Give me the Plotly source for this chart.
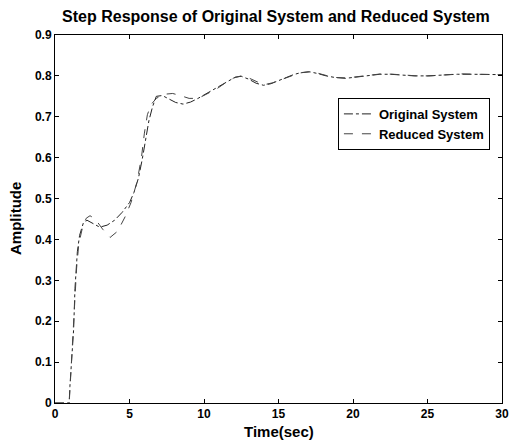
import plotly.graph_objects as go

# Original system step response
t_orig = [0, 0.95, 1.0, 1.12, 1.25, 1.34, 1.5, 1.65, 1.9, 2.15, 2.5, 3.0, 3.5, 4.0, 4.5, 5.0,
          5.3, 5.6, 5.85, 6.05, 6.3, 6.55, 6.8, 7.2, 7.6, 8.1, 8.6, 9.1, 9.6, 10.1, 10.6,
          11.1, 11.6, 12.1, 12.5, 13.0, 13.5, 14.0, 14.5, 15.0, 15.5, 16.0, 16.5, 17.1,
          17.6, 18.2, 18.8, 19.5, 20.2, 21.0, 21.8, 22.5, 23.3, 24.1, 25.0, 26.0, 27.0,
          28.0, 29.0, 30.0]
y_orig = [0, 0, 0.04, 0.10, 0.18, 0.28, 0.37, 0.41, 0.44, 0.447, 0.44, 0.43, 0.435, 0.447,
          0.466, 0.49, 0.515, 0.55, 0.595, 0.64, 0.69, 0.725, 0.75, 0.752, 0.745, 0.735,
          0.731, 0.736, 0.745, 0.755, 0.765, 0.775, 0.787, 0.797, 0.799, 0.792, 0.782,
          0.777, 0.781, 0.788, 0.796, 0.803, 0.808, 0.81, 0.806, 0.8, 0.796, 0.794, 0.797,
          0.801, 0.804, 0.804, 0.802, 0.8, 0.8, 0.802, 0.804, 0.804, 0.803, 0.803]

# Reduced system step response
t_red = [0, 0.95, 1.0, 1.15, 1.3, 1.45, 1.6, 1.85, 2.1, 2.35, 2.7, 3.2, 3.7, 4.2, 4.7, 5.1,
         5.5, 5.8, 6.0, 6.2, 6.45, 6.8, 7.3, 7.9, 8.4, 9.0, 9.6, 10.2, 10.8, 11.4, 12.0,
         12.5, 13.0, 13.6, 14.1, 14.6, 15.2, 15.8, 16.4, 17.0, 17.6, 18.2, 18.9, 19.6,
         20.3, 21.1, 21.9, 22.7, 23.5, 24.3, 25.2, 26.2, 27.2, 28.2, 29.2, 30.0]
y_red = [0, 0, 0.03, 0.12, 0.24, 0.33, 0.39, 0.43, 0.452, 0.458, 0.45, 0.425, 0.405, 0.42,
         0.455, 0.49, 0.54, 0.6, 0.66, 0.705, 0.73, 0.745, 0.755, 0.757, 0.752, 0.745,
         0.745, 0.755, 0.767, 0.782, 0.795, 0.8, 0.795, 0.785, 0.779, 0.783, 0.791, 0.8,
         0.807, 0.81, 0.807, 0.801, 0.796, 0.795, 0.798, 0.802, 0.805, 0.804, 0.802, 0.8,
         0.8, 0.803, 0.805, 0.804, 0.803, 0.803]

x_ticks = [0, 5, 10, 15, 20, 25, 30]
y_ticks = [0, 0.1, 0.2, 0.3, 0.4, 0.5, 0.6, 0.7, 0.8, 0.9]
y_tick_text = ["0", "0.1", "0.2", "0.3", "0.4", "0.5", "0.6", "0.7", "0.8", "0.9"]

FONT = "Liberation Sans, Arial, sans-serif"

fig = go.Figure()
fig.add_trace(go.Scatter(x=t_orig, y=y_orig, mode="lines", name="Original System",
                         line=dict(color="#222222", width=1, dash="dashdot")))
fig.add_trace(go.Scatter(x=t_red, y=y_red, mode="lines", name="Reduced System",
                         line=dict(color="#444444", width=1, dash="dash")))

axis_common = dict(showline=True, linecolor="black", linewidth=1, mirror="ticks",
                   ticks="inside", ticklen=4, tickcolor="black", showgrid=False,
                   zeroline=False, automargin=False,
                   tickfont=dict(family=FONT, size=12, color="black", weight="bold"))

fig.update_layout(
    width=510, height=443,
    margin=dict(l=55, r=8, t=35, b=40),
    paper_bgcolor="white", plot_bgcolor="white",
    title=dict(text="Step Response of Original System and Reduced System",
               x=0.541, xanchor="center", y=0.962, yanchor="middle", yref="container",
               font=dict(family=FONT, size=16, color="black", weight="bold")),
    xaxis=dict(range=[0, 30], tickvals=x_ticks, **axis_common),
    yaxis=dict(range=[0, 0.9], tickvals=y_ticks, ticktext=y_tick_text, **axis_common),
    legend=dict(x=0.973, xanchor="right", y=0.829, yanchor="top",
                bordercolor="black", borderwidth=1, bgcolor="white",
                font=dict(family=FONT, size=13, color="black", weight="bold"),
                tracegroupgap=0, itemwidth=30),
    showlegend=True,
    annotations=[
        dict(text="Time(sec)", xref="paper", yref="paper", x=0.5, y=0, yshift=-28,
             xanchor="center", yanchor="middle", showarrow=False,
             font=dict(family=FONT, size=15, color="black", weight="bold")),
        dict(text="Amplitude", xref="paper", yref="y", x=0, y=0.45, xshift=-40,
             xanchor="center", yanchor="middle", textangle=-90, showarrow=False,
             font=dict(family=FONT, size=15, color="black", weight="bold")),
    ],
)

# remove the default page margin so the figure fills the 510x443 window
fig.write_html("out.html",
               config={"displayModeBar": False},
               post_script="document.body.style.margin='0';"
                           "document.body.style.overflow='hidden';")
